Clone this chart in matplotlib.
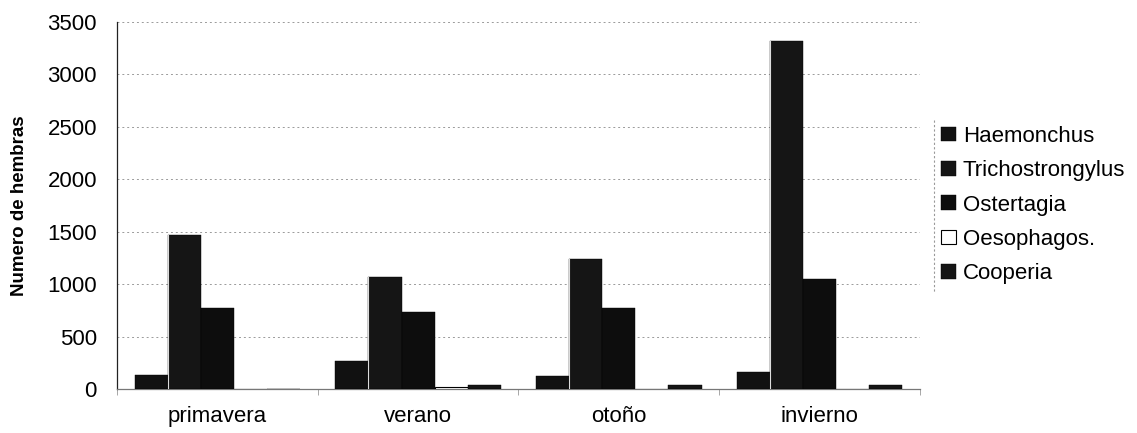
import numpy as np
import matplotlib
matplotlib.use("Agg")
import matplotlib.pyplot as plt
from matplotlib.lines import Line2D

plt.rcParams['font.family'] = ['Liberation Sans', 'DejaVu Sans']

# data
estaciones = ['primavera', 'verano', 'otoño', 'invierno']
haemonchus = [130, 270, 120, 165]
trichostrongylus = [1470, 1065, 1235, 3320]
ostertagia = [775, 730, 775, 1045]
oesophagos = [0, 15, 0, 0]
cooperia = [0, 35, 35, 35]

series = ['Haemonchus', 'Trichostrongylus', 'Ostertagia', 'Oesophagos.', 'Cooperia']
valores = [haemonchus, trichostrongylus, ostertagia, oesophagos, cooperia]
colores = ['#111111', '#151515', '#0d0d0d', 'white', '#151515']

fig = plt.figure(figsize=(11.37, 4.33), dpi=100)
ax = fig.add_axes([0.103, 0.1016, 0.706, 0.848])

x = np.arange(len(estaciones))
w = 0.165
for i, (nombre, vals, col) in enumerate(zip(series, valores, colores)):
    ax.bar(x + (i - 2) * w, vals, width=w, color=col, edgecolor='black',
           linewidth=0.8 if col == 'white' else 0.3, label=nombre, zorder=3)

# thin light line between first and second bar (as in the scan)
for xi, h in zip(x, trichostrongylus):
    ax.plot([xi - 1.5 * w, xi - 1.5 * w], [0, h], color='#dddddd', lw=0.8, zorder=4)

ax.set_xlim(-0.5, 3.5)
ax.set_ylim(0, 3500)
ax.set_yticks(np.arange(0, 3501, 500))
ax.yaxis.grid(True, color='#9a9a9a', linestyle=(0, (2, 3)), linewidth=0.7, zorder=0)
ax.set_axisbelow(True)

ax.set_xticks(x)
ax.set_xticklabels(estaciones, fontsize=16)
ax.tick_params(axis='x', length=0, pad=12)
ax.tick_params(axis='y', labelsize=16, length=0, pad=14.5)
ax.set_xticks(np.arange(-0.5, 4.0, 1.0), minor=True)
ax.tick_params(axis='x', which='minor', length=4, color='#999999')

for s in ['top', 'right']:
    ax.spines[s].set_visible(False)
ax.spines['left'].set_color('#222222')
ax.spines['left'].set_linewidth(0.9)
ax.spines['bottom'].set_color('#777777')
ax.spines['bottom'].set_linewidth(0.9)

ax.set_ylabel('Numero de hembras', fontsize=13.5, fontweight='bold', labelpad=14)

leg = fig.legend(loc='center left', bbox_to_anchor=(941 / 1137, 1 - 205 / 433),
                 frameon=False, fontsize=16, handlelength=0.68, handleheight=0.65,
                 handletextpad=0.3, labelspacing=0.6, borderaxespad=0, borderpad=0)

# dashed left border of the legend box
fig.add_artist(Line2D([934 / 1137, 934 / 1137], [1 - 120 / 433, 1 - 292 / 433],
                      transform=fig.transFigure, color='#999999',
                      linestyle=(0, (2, 2)), lw=0.8))

fig.savefig('out.png', dpi=100)
